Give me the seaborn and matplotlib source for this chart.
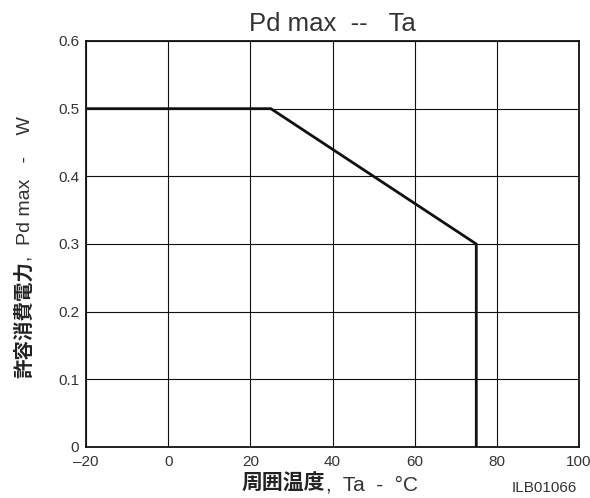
import matplotlib
matplotlib.use("Agg")
import matplotlib.pyplot as plt
import seaborn as sns
import pandas as pd

# Data
temp_c = [-20, 25, 75, 75]
pd_max_w = [0.5, 0.5, 0.3, 0.0]
x_ticks = [-20, 0, 20, 40, 60, 80, 100]
x_tick_labels = ["\u201320", "0", "20", "40", "60", "80", "100"]
y_ticks = [0, 0.1, 0.2, 0.3, 0.4, 0.5, 0.6]
y_tick_labels = ["0", "0.1", "0.2", "0.3", "0.4", "0.5", "0.6"]

sns.set_style("white")
plt.rcParams['font.family'] = ['Liberation Sans', 'Noto Sans CJK JP', 'DejaVu Sans']

W, H = 590, 498
fig = plt.figure(figsize=(W / 100, H / 100), dpi=100)
ax = fig.add_axes([86 / W, 1 - 447 / H, (579 - 86) / W, (447 - 41) / H])

df = pd.DataFrame({"Ta": temp_c, "Pd": pd_max_w})
sns.lineplot(data=df, x="Ta", y="Pd", sort=False, estimator=None, color="#111111",
             linewidth=2.0, ax=ax)

ax.set_xlim(-20, 100)
ax.set_ylim(0, 0.6)
ax.set_xticks(x_ticks)
ax.set_xticklabels(x_tick_labels)
ax.set_yticks(y_ticks)
ax.set_yticklabels(y_tick_labels)
ax.tick_params(axis='both', length=0, labelsize=11, labelcolor="#333333")
ax.tick_params(axis='x', pad=6)
ax.tick_params(axis='y', pad=5)
ax.grid(True, color="#111111", linewidth=0.8)
ax.set_axisbelow(True)
for s in ax.spines.values():
    s.set_color("#111111")
    s.set_linewidth(1.3)
    s.set_visible(True)

ax.set_xlabel("")
ax.set_ylabel("")
ax.set_title("Pd max  --   Ta", fontsize=18.5, color="#333333", pad=7.5)

cjk = ['Noto Sans CJK JP', 'DejaVu Sans']
fig.canvas.draw()
renderer = fig.canvas.get_renderer()

# X label: bold CJK part + regular part
xb_y = 1 - 490 / H
t1 = fig.text(242 / W, xb_y, "周囲温度", fontsize=15, fontweight="bold", color="#222222",
              ha="left", va="baseline", family=cjk)
bb = t1.get_window_extent(renderer)
fig.text(bb.x1 / W, xb_y, ",  Ta  -  °C", fontsize=15, color="#333333", ha="left",
         va="baseline")

# Y label: bold CJK part + regular part (rotated)
yb_x = 30 / W
t2 = fig.text(yb_x, 1 - 378 / H, "許容消費電力", fontsize=14, fontweight="bold",
              color="#222222", rotation=90, rotation_mode="anchor", ha="left",
              va="baseline", family=cjk)
bb2 = t2.get_window_extent(renderer)
fig.text(yb_x, bb2.y1 / H, ",  Pd max   -    W", fontsize=14, color="#333333",
         rotation=90, rotation_mode="anchor", ha="left", va="baseline")

fig.text(577 / W, 1 - 492 / H, "ILB01066", fontsize=11, color="#333333", ha="right",
         va="baseline")

fig.savefig("out.png", dpi=100)
